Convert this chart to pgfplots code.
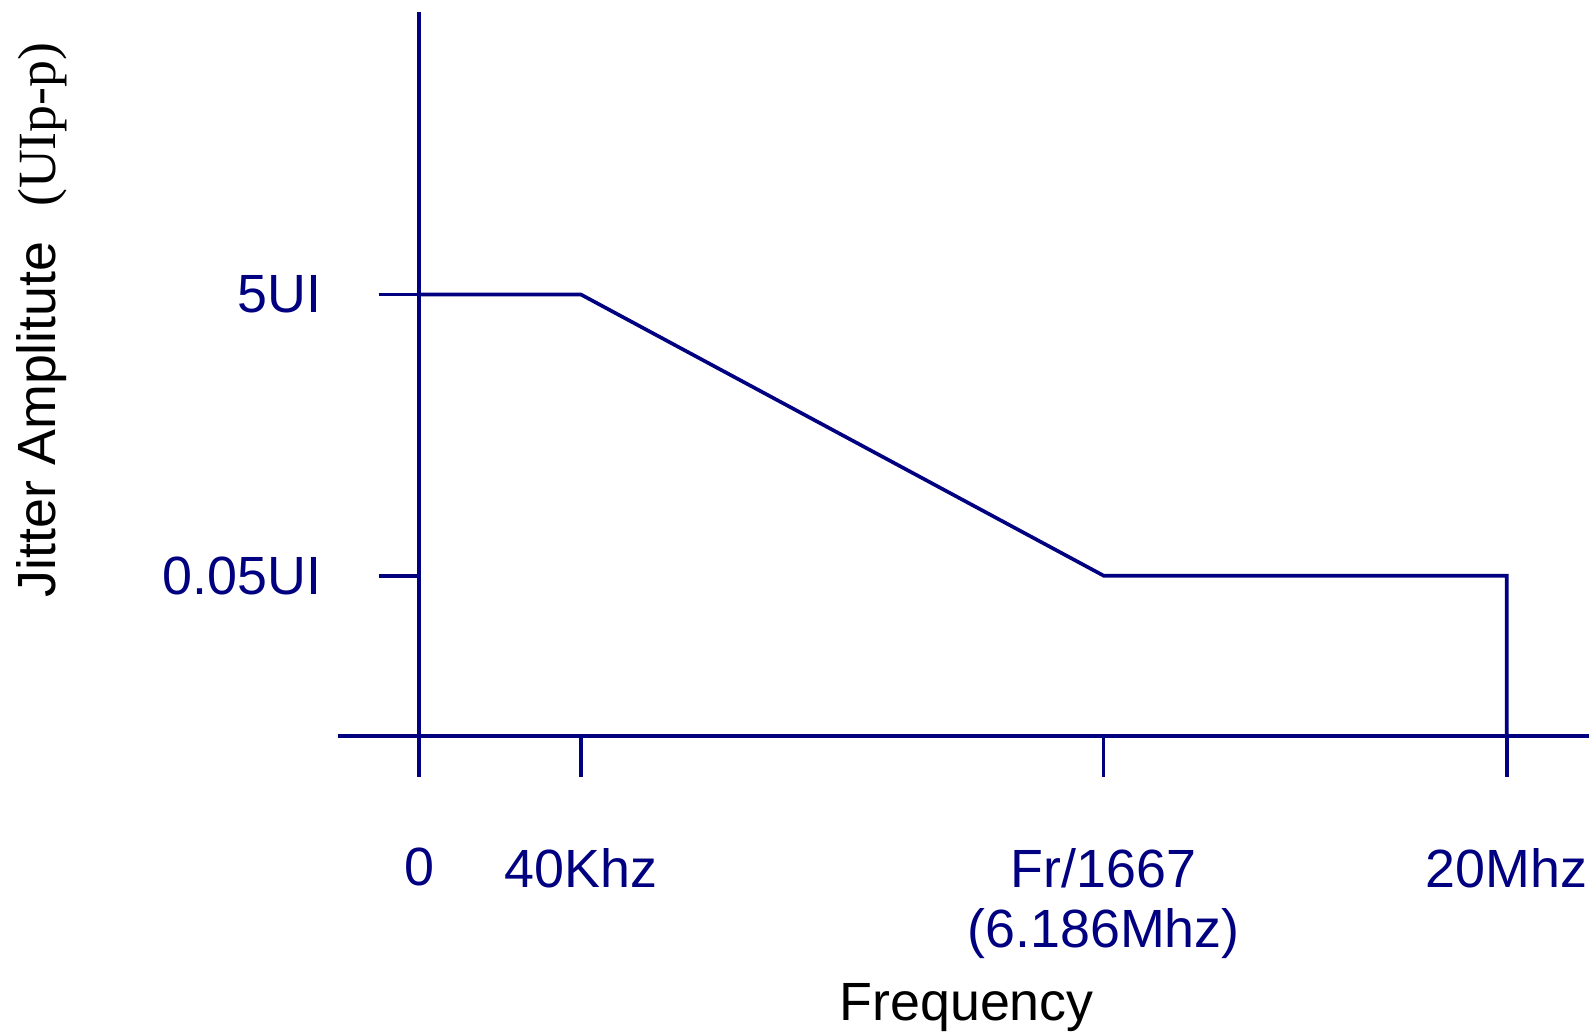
\documentclass[border=0pt]{standalone}
\usepackage{pgfplots}
\pgfplotsset{compat=1.18}
\usepackage{fontspec}
\setmainfont{Liberation Sans}
\newfontfamily\seriffont{Liberation Serif}
\definecolor{navy}{RGB}{0,0,128}
\begin{document}
\begin{tikzpicture}
\begin{axis}[
  x=0.5pt, y=0.5pt,
  axis lines=middle,
  axis line style={-, navy, line width=1.8pt},
  xmin=-80, xmax=1152, ymin=-40, ymax=713,
  enlargelimits=false,
  clip=false,
  tick align=outside,
  major tick length=20pt,
  tick style={navy, line width=1.8pt},
  hide obscured x ticks=false,
  hide obscured y ticks=false,
  xtick={0,159,674,1071},
  xticklabels={0,40Khz,{Fr/1667\\(6.186Mhz)},20Mhz},
  ytick={158,435},
  yticklabels={0.05UI,5UI},
  ticklabel style={font=\fontsize{26.5}{29.5}\selectfont, text=navy},
  xticklabel style={anchor=north, align=center, inner sep=0pt, yshift=-35pt},
  yticklabel style={anchor=east, inner sep=0pt, xshift=-28pt},
  xlabel={Frequency},
  xlabel style={at={(axis cs:539,-280)}, anchor=base, inner sep=0pt, font=\fontsize{26.5}{30}\selectfont, text=black},
  ylabel={Jitter Amplitute\hspace{17pt}{\seriffont (UIp-p)}},
  ylabel style={at={(axis cs:-372,410)}, anchor=center, rotate=90, inner sep=0pt, font=\fontsize{26.5}{30}\selectfont, text=black},
]
\addplot[navy, line width=1.8pt] coordinates {(0,435) (159,435) (674,158) (1071,158) (1071,0)};
\coordinate (TL) at (axis cs:-413,725);
\coordinate (BR) at (axis cs:1155,-291);
\end{axis}
\pgfresetboundingbox
\useasboundingbox (TL) rectangle (BR);
\end{tikzpicture}
\end{document}
